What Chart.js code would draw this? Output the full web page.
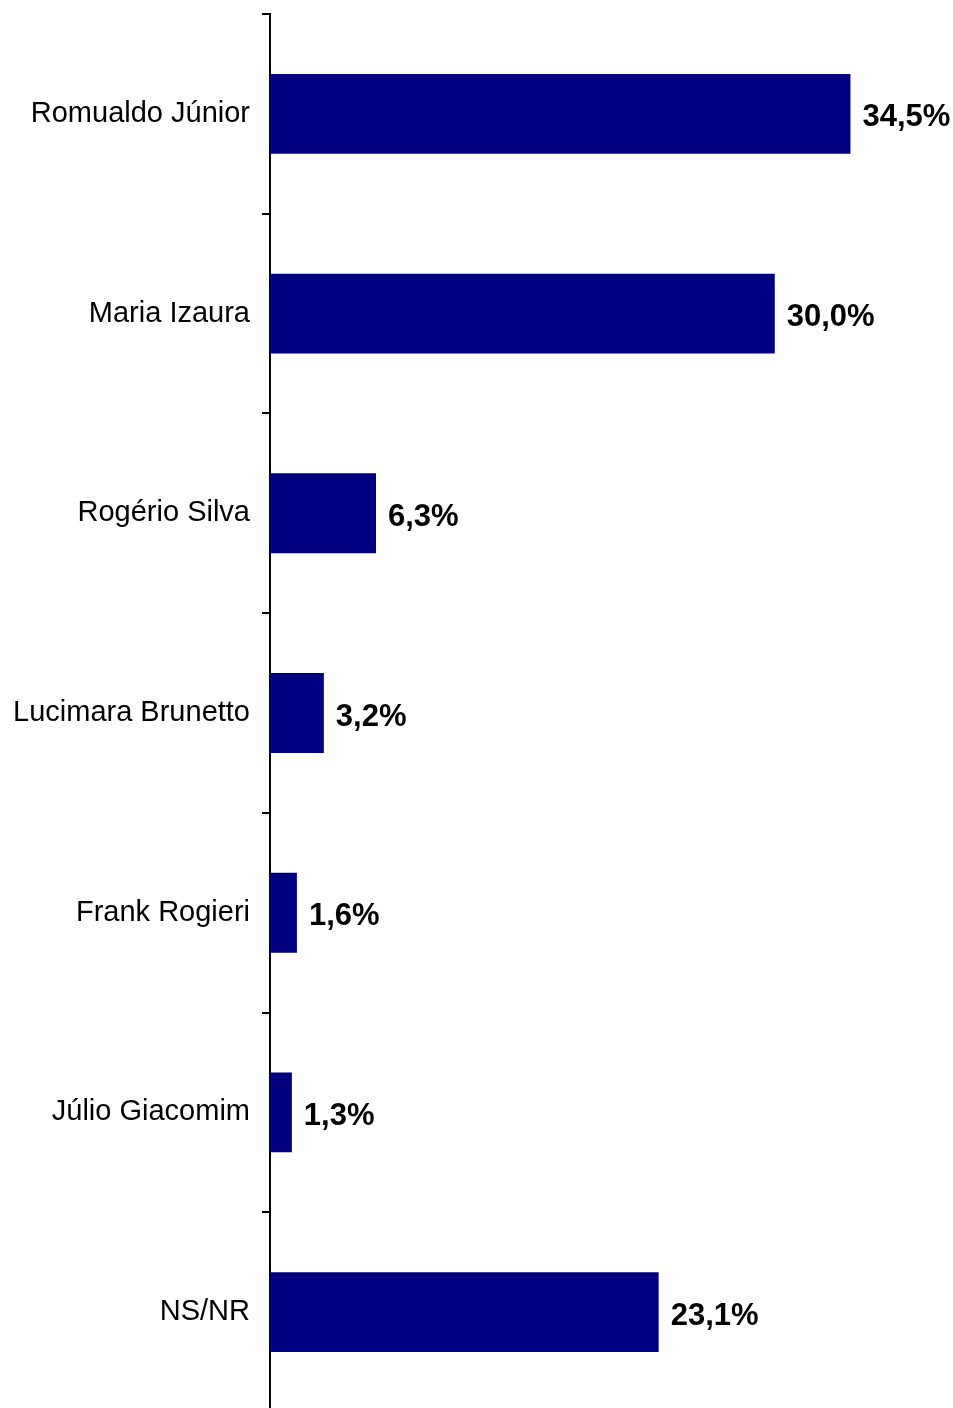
<!DOCTYPE html>
<html>
<head>
<meta charset="utf-8">
<script src="https://cdn.jsdelivr.net/npm/chart.js@4/dist/chart.umd.min.js"></script>
<style>
  html, body { margin: 0; padding: 0; background: #fff; overflow: hidden; }
  body { width: 953px; height: 1408px; }
  canvas { display: block; }
</style>
</head>
<body>
<canvas id="grafico" width="953" height="1412"></canvas>
<script>
// candidatos e percentuais
const candidatos = ["Romualdo Júnior", "Maria Izaura", "Rogério Silva", "Lucimara Brunetto", "Frank Rogieri", "Júlio Giacomim", "NS/NR"];
const percentuais = [34.5, 30.0, 6.3, 3.2, 1.6, 1.3, 23.1];

// rótulos de valor à direita de cada barra
const rotulos = {
  id: "rotulos",
  afterDatasetsDraw(chart) {
    const ctx = chart.ctx;
    const meta = chart.getDatasetMeta(0);
    ctx.save();
    ctx.font = "bold 31px 'Liberation Sans', Arial, sans-serif";
    ctx.fillStyle = "#000";
    ctx.textAlign = "left";
    ctx.textBaseline = "middle";
    meta.data.forEach((bar, i) => {
      const txt = percentuais[i].toFixed(1).replace(".", ",") + "%";
      ctx.fillText(txt, bar.x + 12, bar.y + 4);
    });
    ctx.restore();
  }
};

new Chart(document.getElementById("grafico").getContext("2d"), {
  type: "bar",
  data: {
    labels: candidatos,
    datasets: [{
      data: percentuais,
      backgroundColor: "#000080",
      borderWidth: 0,
      categoryPercentage: 1,
      barPercentage: 0.4
    }]
  },
  options: {
    indexAxis: "y",
    responsive: false,
    animation: false,
    devicePixelRatio: 1,
    layout: { padding: { top: 14, right: 10, bottom: 0, left: 0 } },
    plugins: {
      legend: { display: false },
      tooltip: { enabled: false }
    },
    scales: {
      x: {
        display: false,
        min: 0,
        max: 40
      },
      y: {
        offset: true,
        afterFit: (scale) => {
          scale.width = 270;
          scale.paddingTop = 0;
          scale.paddingBottom = 0;
        },
        grid: {
          offset: true,
          drawOnChartArea: false,
          drawTicks: true,
          tickLength: 8,
          color: "#000",
          lineWidth: 2
        },
        border: { display: true, color: "#000", width: 2 },
        ticks: {
          color: "#000",
          padding: 12,
          font: { family: "'Liberation Sans', Arial, sans-serif", size: 29 }
        }
      }
    }
  },
  plugins: [rotulos]
});
</script>
</body>
</html>
